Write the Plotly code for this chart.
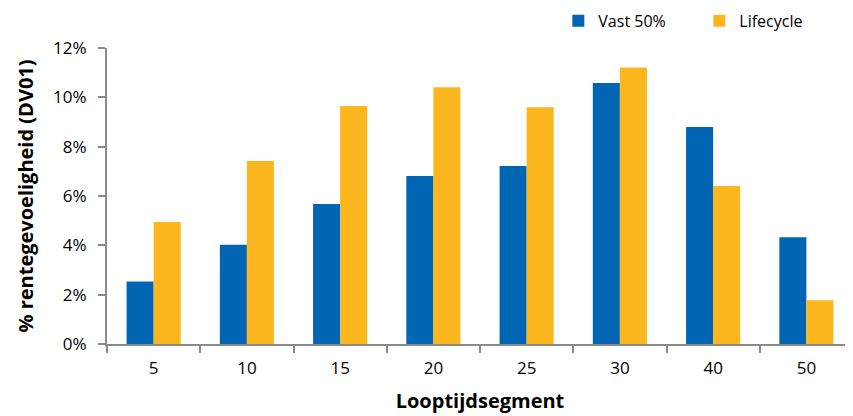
import plotly.graph_objects as go

categories = ["5", "10", "15", "20", "25", "30", "40", "50"]
vast_50 = [2.53, 4.02, 5.68, 6.81, 7.22, 10.58, 8.80, 4.33]
lifecycle = [4.95, 7.42, 9.65, 10.41, 9.60, 11.21, 6.41, 1.77]
y_ticks = [0, 2, 4, 6, 8, 10, 12]
y_tick_labels = ["0%", "2%", "4%", "6%", "8%", "10%", "12%"]

font_family = "'Open Sans', sans-serif"
axis_grey = "#8a8a8a"

# the page body has an 8px default margin, so the figure is sized to fit the window
W, H = 845, 408

fig = go.Figure()
fig.add_trace(go.Bar(name="Vast 50%", x=categories, y=vast_50,
                     marker=dict(color="#0066B3", line=dict(width=0))))
fig.add_trace(go.Bar(name="Lifecycle", x=categories, y=lifecycle,
                     marker=dict(color="#FDB71E", line=dict(width=0))))

fig.update_layout(
    width=W, height=H,
    margin=dict(l=99, r=0, t=40, b=72, autoexpand=False),
    paper_bgcolor="white", plot_bgcolor="white",
    barmode="group", bargap=0.42, bargroupgap=0,
    font=dict(family=font_family, size=17, color="#000000"),
    showlegend=True,
    legend=dict(orientation="h", xref="paper", yref="paper",
                x=0.605, y=1.092, xanchor="left", yanchor="middle",
                font=dict(size=16), itemwidth=30, tracegroupgap=0,
                entrywidth=96, entrywidthmode="pixels",
                bgcolor="rgba(0,0,0,0)"),
    xaxis=dict(
        type="category", showgrid=False, showline=True, linecolor=axis_grey, linewidth=2,
        ticks="outside", tickson="boundaries", ticklen=7, tickcolor=axis_grey, tickwidth=2,
        ticklabelstandoff=8, automargin=False,
        title=dict(text="<b>Looptijdsegment</b>", font=dict(size=20), standoff=16),
    ),
    yaxis=dict(
        range=[0, 12], tickmode="array", tickvals=y_ticks, ticktext=y_tick_labels,
        showgrid=False, zeroline=False, automargin=False,
        showline=True, linecolor=axis_grey, linewidth=2,
        ticks="outside", ticklen=7, tickcolor=axis_grey, tickwidth=2,
        ticklabelstandoff=8,
        title=dict(text="<b>% rentegevoeligheid (DV01)</b>", font=dict(size=20), standoff=14),
    ),
)

fig.write_html("out.html")
